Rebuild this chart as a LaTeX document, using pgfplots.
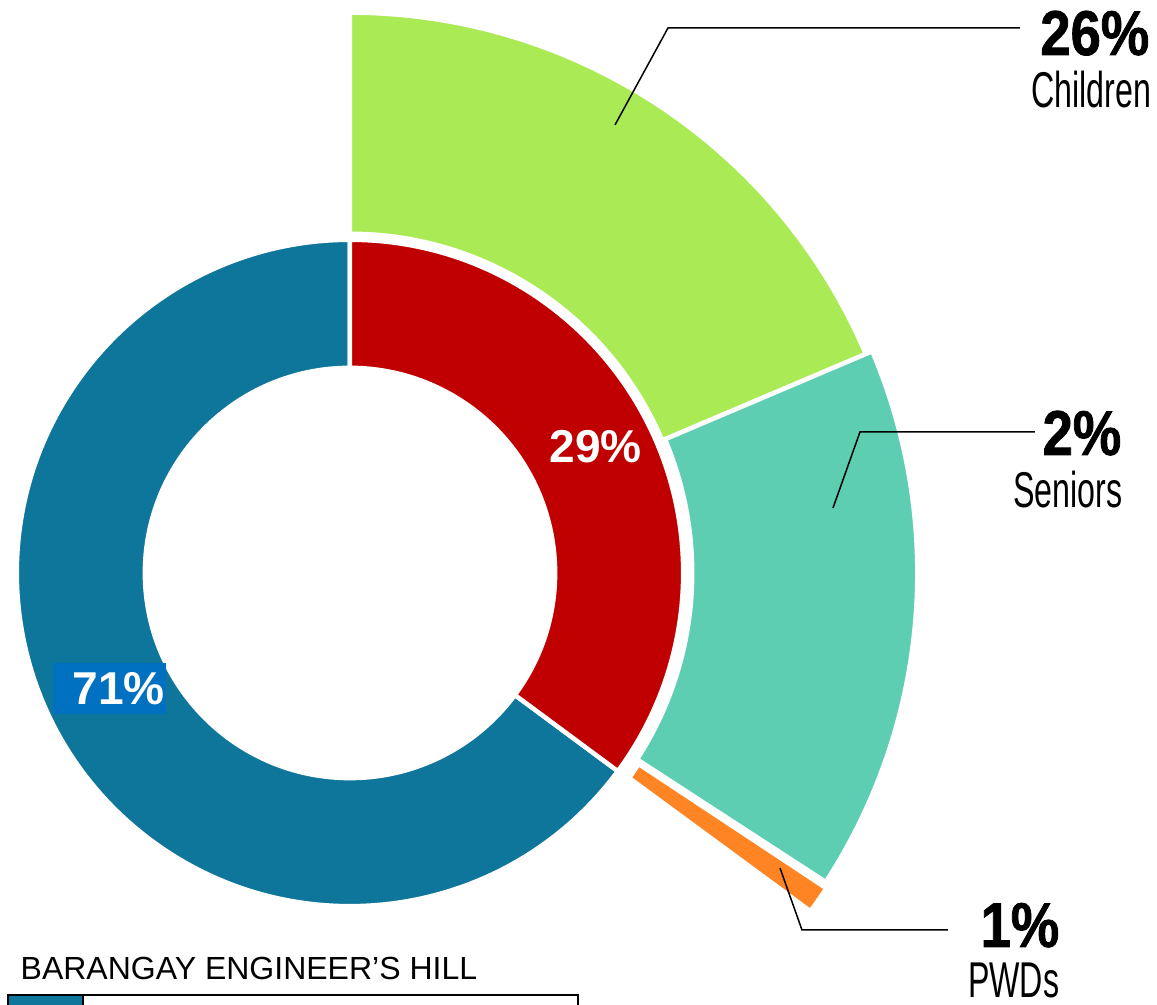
\documentclass[border=0pt]{standalone}
\usepackage{pgfplots}
\pgfplotsset{compat=1.18}
\usepackage{fontspec}
\setmainfont{Liberation Sans}
\newfontfamily\condbold[FakeStretch=0.86,FakeBold=1.2]{Liberation Sans Bold}
\newfontfamily\condlight[FakeStretch=0.64]{Liberation Sans}
\definecolor{cblue}{HTML}{0E769B}
\definecolor{cred}{HTML}{C00000}
\definecolor{cgreen}{HTML}{AAEA55}
\definecolor{cteal}{HTML}{5DCEB2}
\definecolor{corange}{HTML}{FF8424}
\definecolor{cbox}{HTML}{0070C0}
% wedge: colour, start angle, end angle, inner radius, outer radius
\newcommand{\ringwedge}[5]{\fill[#1,draw=white,line width=0.045cm]
  ([shift={(#2:#5)}]C) arc[start angle=#2,end angle=#3,radius=#5]
  -- ([shift={(#3:#4)}]C) arc[start angle=#3,end angle=#2,radius=#4] -- cycle;}
\begin{document}
\begin{tikzpicture}
\begin{axis}[x=0.01cm,y=0.01cm,xmin=0,xmax=1157,ymin=0,ymax=1005,
  hide axis,clip=false,scale only axis]
\addplot[draw=none,forget plot] coordinates {(0,0) (1157,1005)};
\coordinate (SW) at (axis cs:0,0);
\coordinate (NE) at (axis cs:1157,1005);
\coordinate (C) at (axis cs:350,432);
% inner ring: 29% / 71%
\ringwedge{cblue}{-36.5}{-270}{2.05cm}{3.33cm}
\ringwedge{cred}{90}{-36.5}{2.05cm}{3.33cm}
% outer breakdown
\ringwedge{cgreen}{90}{23}{3.39cm}{5.60cm}
\ringwedge{cteal}{23}{-33}{3.42cm}{5.67cm}
\ringwedge{corange}{-33.5}{-36.3}{3.46cm}{5.71cm}
% leader lines
\draw[black,line width=0.015cm] (axis cs:615,880) -- (axis cs:668,977) -- (axis cs:1020,977);
\draw[black,line width=0.015cm] (axis cs:833,497) -- (axis cs:860,573) -- (axis cs:1035,573);
\draw[black,line width=0.015cm] (axis cs:780,137) -- (axis cs:802,75) -- (axis cs:948,75);
% labels
\node[anchor=base east,inner sep=0] at (axis cs:1150,950) {\condbold\fontsize{18}{18}\selectfont 26\%};
\node[anchor=base east,inner sep=0] at (axis cs:1152,897) {\condlight\fontsize{14.3}{14.3}\selectfont Children};
\node[anchor=base east,inner sep=0] at (axis cs:1122,550) {\condbold\fontsize{18}{18}\selectfont 2\%};
\node[anchor=base east,inner sep=0] at (axis cs:1123,497) {\condlight\fontsize{14.3}{14.3}\selectfont Seniors};
\node[anchor=base east,inner sep=0] at (axis cs:1060,58) {\condbold\fontsize{18}{18}\selectfont 1\%};
\node[anchor=base east,inner sep=0] at (axis cs:1060,7) {\condlight\fontsize{14.3}{14.3}\selectfont PWDs};
\node[anchor=base west,inner sep=0,text=white] at (axis cs:549,542) {\bfseries\fontsize{13.1}{13.1}\selectfont 29\%};
\fill[cbox] (axis cs:53,291) rectangle (axis cs:166,342);
\node[anchor=base west,inner sep=0,text=white] at (axis cs:72,300) {\bfseries\fontsize{13.1}{13.1}\selectfont 71\%};
% title and legend
\node[anchor=base west,inner sep=0] at (axis cs:20,25) {\fontsize{9.1}{9.1}\selectfont BARANGAY ENGINEER’S HILL};
\filldraw[fill=white,draw=black,line width=0.02cm] (axis cs:8,10) rectangle (axis cs:578,-20);
\filldraw[fill=cblue,draw=black,line width=0.02cm] (axis cs:8,10) rectangle (axis cs:83,-20);
\end{axis}
\pgfresetboundingbox
\useasboundingbox (SW) rectangle (NE);
\end{tikzpicture}
\end{document}
